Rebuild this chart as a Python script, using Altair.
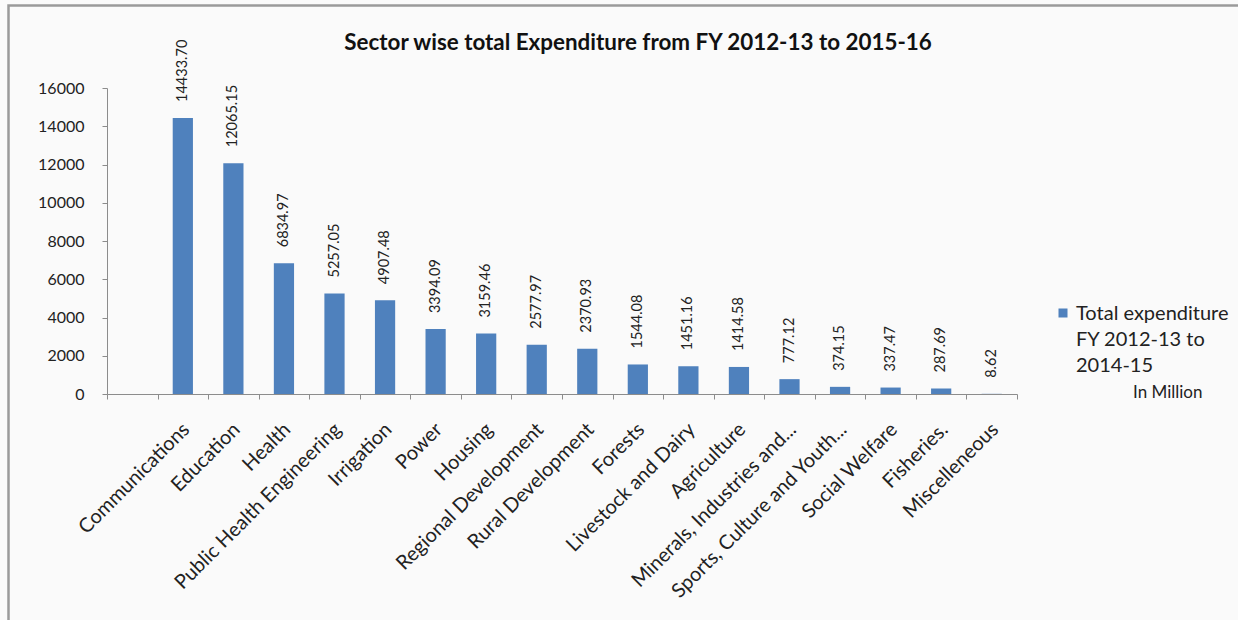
import altair as alt
import pandas as pd

title_text = "Sector wise total Expenditure from FY 2012-13 to 2015-16"
categories = ["Communications", "Education", "Health", "Public Health Engineering",
              "Irrigation", "Power", "Housing", "Regional Development",
              "Rural Development", "Forests", "Livestock and Dairy", "Agriculture",
              "Minerals, Industries and...", "Sports, Culture and Youth...",
              "Social Welfare", "Fisheries.", "Miscelleneous"]
values = [14433.70, 12065.15, 6834.97, 5257.05, 4907.48, 3394.09, 3159.46, 2577.97,
          2370.93, 1544.08, 1451.16, 1414.58, 777.12, 374.15, 337.47, 287.69, 8.62]
series_name = "Total expenditure|\u00a0FY 2012-13 to|2014-15"
unit_note = "In Million"
y_ticks = [0, 2000, 4000, 6000, 8000, 10000, 12000, 14000, 16000]

df = pd.DataFrame({"sector": categories, "value": values})
domain = [""] + categories  # Excel chart has an empty first slot

FONT = "Lato"
BAR = "#4F81BD"
W, H = 910, 306
PL, PT = 107, 88

xscale = alt.Scale(domain=domain, paddingInner=0, paddingOuter=0)
xaxis = alt.Axis(title=None, labelAngle=-45, labelAlign="right", labelBaseline="top",
                 labelPadding=20, labelOffset=-4, labelFont=FONT, labelFontSize=20,
                 labelColor="#222", tickBand="extent", tickSize=5, tickColor="#8c8c8c",
                 domainColor="#8c8c8c", labelLimit=0, labelOverlap=False)
yscale = alt.Scale(domain=[0, 16000], nice=False)
yaxis = alt.Axis(title=None, values=y_ticks, format="d", grid=False, labelFont=FONT,
                 labelFontSize=16, labelColor="#222", labelPadding=18, tickSize=5,
                 labelOverlap=False, tickColor="#8c8c8c", domainColor="#8c8c8c")

x = alt.X("sector:N", sort=domain, scale=xscale, axis=xaxis)
y = alt.Y("value:Q", scale=yscale, axis=yaxis)

bars = alt.Chart(df).mark_bar(color=BAR, width=alt.RelativeBandSize(0.4)).encode(x=x, y=y)

labels = alt.Chart(df).mark_text(angle=270, align="left", baseline="middle", dx=16,
                                 font=FONT, fontSize=14.5, color="#222").encode(
    x=x, y=y,
    text=alt.Text("value:Q", format=".2f"),
)

# legend (Excel-style, multi-line label)
leg_df = pd.DataFrame({"series": [series_name]})
leg_sym = alt.Chart(leg_df).mark_square(size=81, color=BAR, opacity=1).encode(
    x=alt.value(1063 - PL), y=alt.value(313 - PT))
leg_txt = alt.Chart(leg_df).mark_text(
    align="left", baseline="top", lineBreak="|", lineHeight=26, font=FONT, fontSize=20,
    color="#222").encode(x=alt.value(1076 - PL), y=alt.value(304 - PT), text="series:N")

note = alt.Chart(pd.DataFrame({"t": [unit_note]})).mark_text(
    align="left", baseline="middle", font=FONT, fontSize=17, color="#222").encode(
    x=alt.value(1133 - PL), y=alt.value(393 - PT), text="t:N")

title = alt.Chart(pd.DataFrame({"t": [title_text]})).mark_text(
    align="center", baseline="middle", font=FONT, fontSize=22.4, fontWeight="bold",
    color="#111").encode(x=alt.value(638 - PL), y=alt.value(43 - PT), text="t:N")

frame = alt.Chart(pd.DataFrame({"a": [0]})).mark_rect(
    fill=None, stroke="#9a9a9a", strokeWidth=2.5).encode(
    x=alt.value(8.5 - PL), y=alt.value(5.5 - PT),
    x2=alt.value(1238 - PL + 20), y2=alt.value(620 - PT + 20))

chart = alt.layer(frame, bars, labels, leg_sym, leg_txt, note, title).properties(
    width=W, height=H,
    autosize=alt.AutoSizeParams(type="none"),
    padding={"left": PL, "top": PT, "right": 1238 - PL - W, "bottom": 620 - PT - H},
    background="#fafafa",
).configure_view(stroke=None)

chart.save("out.html", embed_options={"renderer": "svg", "actions": False})
